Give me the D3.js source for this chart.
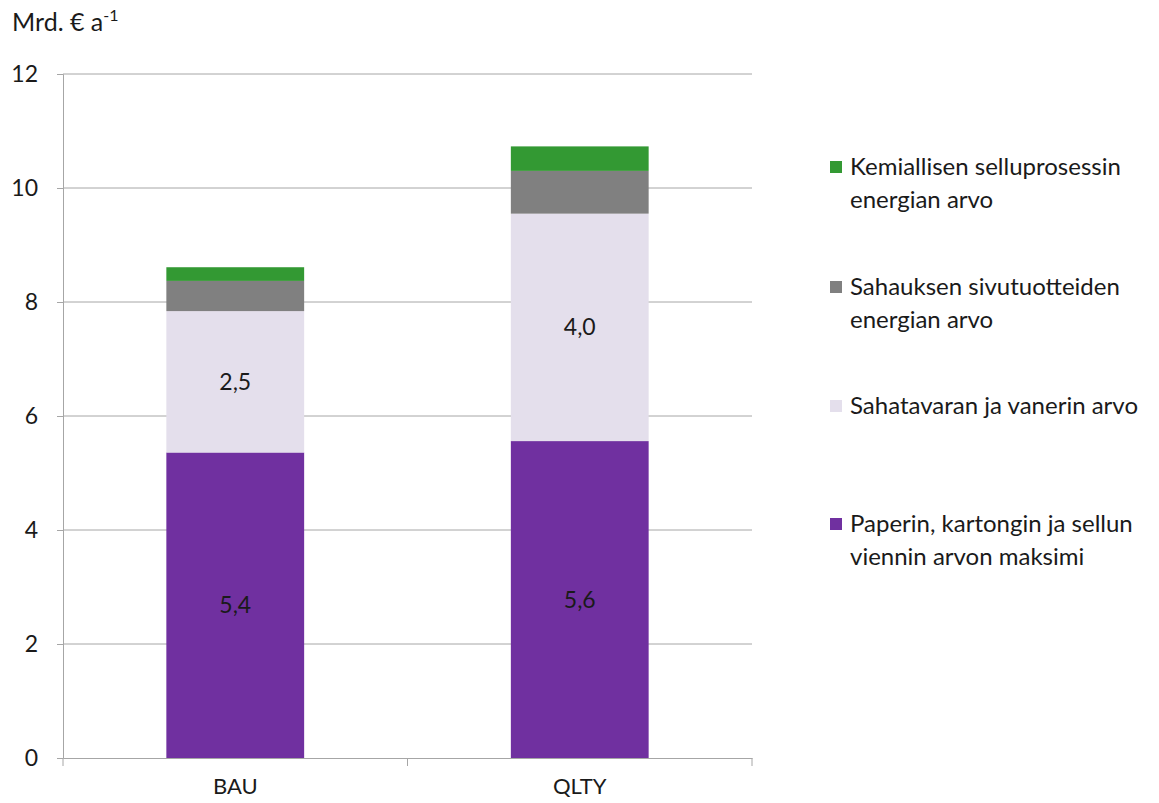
<!DOCTYPE html>
<html>
<head>
<meta charset="utf-8">
<script src="https://cdn.jsdelivr.net/npm/d3@7"></script>
<style>
  body { margin: 0; background: #fff; }
  svg text { font-family: Lato, "Open Sans", sans-serif; fill: #1a1a1a; }
</style>
</head>
<body>
<svg id="chart" width="1159" height="803"></svg>
<script>
// data
const categories = ['BAU', 'QLTY']
const seriesNames = ['Paperin, kartongin ja sellun viennin arvon maksimi',
                     'Sahatavaran ja vanerin arvo',
                     'Sahauksen sivutuotteiden energian arvo',
                     'Kemiallisen selluprosessin energian arvo']
const paperi = [5.36, 5.56]
const sahatavara = [2.48, 3.99]
const sivutuotteet = [0.53, 0.75]
const kemiallinen = [0.24, 0.43]
const labelsPaperi = ['5,4', '5,6']
const labelsSahatavara = ['2,5', '4,0']
const yTicks = [0, 2, 4, 6, 8, 10, 12]

const colors = ['#7030a0', '#e4dfec', '#808080', '#339933']
const legendLines = [
    ['Paperin, kartongin ja sellun', 'viennin arvon maksimi'],
    ['Sahatavaran ja vanerin arvo'],
    ['Sahauksen sivutuotteiden', 'energian arvo'],
    ['Kemiallisen selluprosessin', 'energian arvo']
]

let svg = d3.select('#chart')
let plotLeft = 63, plotRight = 752, plotTop = 74, plotBottom = 758

let x = d3.scaleBand().domain(categories).range([plotLeft, plotRight]).padding(0)
let y = d3.scaleLinear().domain([0, 12]).range([plotBottom, plotTop])

// gridlines
svg.append('g').selectAll('line')
    .data(yTicks.filter(d => d > 0))
    .enter().append('line')
    .attr('x1', plotLeft).attr('x2', plotRight)
    .attr('y1', d => y(d)).attr('y2', d => y(d))
    .attr('stroke', '#a6a6a6').attr('stroke-width', 1)

// stacked bars
let rows = categories.map((c, i) => ({
    cat: c, p: paperi[i], s: sahatavara[i], v: sivutuotteet[i], k: kemiallinen[i]
}))
let stack = d3.stack().keys(['p', 's', 'v', 'k'])(rows)
let barW = x.bandwidth() * 0.4

svg.append('g').selectAll('g')
    .data(stack)
    .enter().append('g')
    .attr('fill', (d, i) => colors[i])
    .selectAll('rect')
    .data(d => d)
    .enter().append('rect')
    .attr('x', d => x(d.data.cat) + (x.bandwidth() - barW) / 2)
    .attr('width', barW)
    .attr('y', d => y(d[1]))
    .attr('height', d => y(d[0]) - y(d[1]))

// value labels
function drawLabels(layer, labels) {
    svg.append('g').selectAll('text')
        .data(layer)
        .enter().append('text')
        .attr('x', d => x(d.data.cat) + x.bandwidth() / 2)
        .attr('y', d => (y(d[0]) + y(d[1])) / 2 + 8)
        .attr('text-anchor', 'middle')
        .attr('font-size', '23px')
        .text((d, i) => labels[i])
}
drawLabels(stack[0], labelsPaperi)
drawLabels(stack[1], labelsSahatavara)

// y axis
let yAxis = svg.append('g')
    .attr('transform', `translate(${plotLeft},0)`)
    .call(d3.axisLeft(y).tickValues(yTicks).tickSize(6).tickPadding(19).tickFormat(d3.format('d')))
yAxis.select('.domain').attr('stroke', '#a6a6a6')
yAxis.selectAll('.tick line').attr('stroke', '#a6a6a6')
yAxis.selectAll('.tick text').attr('font-size', '23px').attr('fill', '#1a1a1a')
    .attr('font-family', 'Lato, "Open Sans", sans-serif')

// x axis
let xAxis = svg.append('g')
    .attr('transform', `translate(0,${plotBottom})`)
    .call(d3.axisBottom(x).tickSize(0).tickPadding(20))
xAxis.select('.domain').attr('stroke', '#a6a6a6')
xAxis.selectAll('.tick text').attr('font-size', '22px').attr('fill', '#1a1a1a')
    .attr('font-family', 'Lato, "Open Sans", sans-serif')
// category separators
svg.append('g').selectAll('line')
    .data(categories.concat(['end']))
    .enter().append('line')
    .attr('x1', (d, i) => plotLeft + i * x.step())
    .attr('x2', (d, i) => plotLeft + i * x.step())
    .attr('y1', plotBottom).attr('y2', plotBottom + 8)
    .attr('stroke', '#a6a6a6')

// axis title
let title = svg.append('text').attr('x', 12).attr('y', 31).attr('font-size', '25px')
title.append('tspan').text('Mrd. € a')
title.append('tspan').attr('dy', -10).attr('font-size', '16px').text('-1')

// legend
let legendY = [524, 406, 287, 167]
let legend = svg.append('g').selectAll('g')
    .data(seriesNames)
    .enter().append('g')
    .attr('transform', (d, i) => `translate(830,${legendY[i]})`)
legend.append('rect')
    .attr('x', 0).attr('y', -6).attr('width', 12).attr('height', 12)
    .attr('fill', (d, i) => colors[i])
legend.each(function(d, i) {
    let t = d3.select(this).append('text').attr('x', 20).attr('y', 8).attr('font-size', '24px')
    legendLines[i].forEach((line, j) => {
        t.append('tspan').attr('x', 20).attr('dy', j === 0 ? 0 : 33).text(line)
    })
})
</script>
</body>
</html>
